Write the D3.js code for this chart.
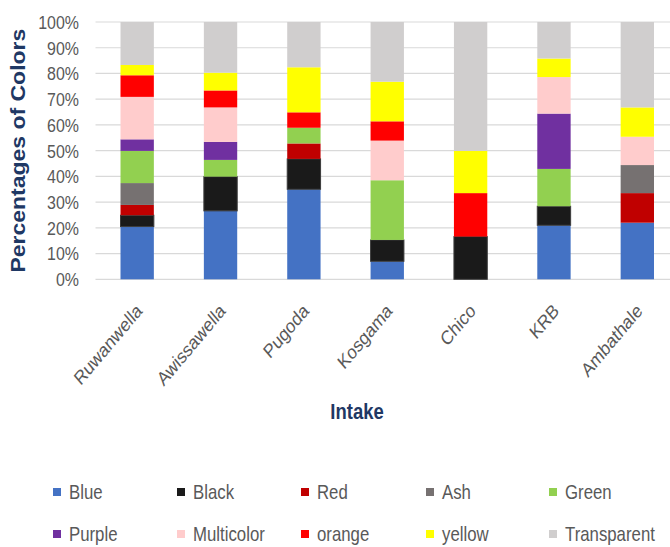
<!DOCTYPE html>
<html>
<head>
<meta charset="utf-8">
<script src="https://cdn.jsdelivr.net/npm/d3@7"></script>
<style>
  body { margin: 0; background: #fff; }
  svg { display: block; }
  text { font-family: "Liberation Sans", Arial, sans-serif; }
</style>
</head>
<body>
<svg width="670" height="547"></svg>
<script>
// sites along the x axis
const intakes = ['Ruwanwella', 'Awissawella', 'Pugoda', 'Kosgama', 'Chico', 'KRB', 'Ambathale'];

// percentage of each colour per intake
const blue        = [20.5, 26.6, 35.0,  7.0,  0.0, 21.0, 22.0];
const black       = [ 4.4, 13.3, 11.8,  8.3, 16.6,  7.4,  0.0];
const red         = [ 4.0,  0.0,  6.0,  0.0,  0.0,  0.0, 11.5];
const ash         = [ 8.5,  0.0,  0.0,  0.0,  0.0,  0.0, 10.9];
const green       = [12.5,  6.5,  6.1, 23.2,  0.0, 14.5,  0.0];
const purple      = [ 4.5,  7.0,  0.0,  0.0,  0.0, 21.5,  0.0];
const multicolor  = [16.5, 13.4,  0.0, 15.4,  0.0, 14.2, 11.0];
const orange      = [ 8.4,  6.6,  6.0,  7.5, 16.9,  0.0,  0.0];
const yellow      = [ 4.0,  6.9, 17.5, 15.4, 16.4,  7.2, 11.4];
const transparent = [16.7, 19.7, 17.6, 23.2, 50.1, 14.2, 33.2];

const seriesNames = ['Blue', 'Black', 'Red', 'Ash', 'Green', 'Purple', 'Multicolor', 'orange', 'yellow', 'Transparent'];
const seriesValues = [blue, black, red, ash, green, purple, multicolor, orange, yellow, transparent];
const seriesColors = ['#4472c4', '#1a1a1a', '#c00000', '#767171', '#92d050', '#7030a0', '#ffcccc', '#ff0000', '#ffff00', '#d0cece'];

const yTicks = [0, 0.1, 0.2, 0.3, 0.4, 0.5, 0.6, 0.7, 0.8, 0.9, 1];

const svg = d3.select('svg');
const plot = { left: 95.5, right: 679, top: 22, bottom: 279.3 };
const squeeze = 0.84; // the source picture is squashed sideways

const rows = intakes.map((name, i) => {
  const row = { intake: name };
  seriesNames.forEach((s, j) => { row[s] = seriesValues[j][i]; });
  return row;
});

const stack = d3.stack().keys(seriesNames).offset(d3.stackOffsetExpand);
const layers = stack(rows);

const x = d3.scaleBand().domain(intakes).range([plot.left, plot.right]).paddingInner(0.6).paddingOuter(0.3);
const y = d3.scaleLinear().domain([0, 1]).range([plot.bottom, plot.top]);
const color = d3.scaleOrdinal().domain(seriesNames).range(seriesColors);

// gridlines
svg.append('g')
  .selectAll('line')
  .data(yTicks)
  .join('line')
  .attr('x1', plot.left)
  .attr('x2', plot.right)
  .attr('y1', d => y(d))
  .attr('y2', d => y(d))
  .attr('stroke', '#d9d9d9')
  .attr('stroke-width', 1.2);

// y tick labels
svg.append('g')
  .selectAll('text')
  .data(yTicks)
  .join('text')
  .attr('transform', d => `translate(79,${y(d)}) scale(${squeeze},1)`)
  .attr('dy', '0.36em')
  .attr('text-anchor', 'end')
  .attr('fill', '#595959')
  .attr('font-size', 19)
  .text(d3.format('.0%'));

// bars
svg.append('g')
  .selectAll('g')
  .data(layers)
  .join('g')
  .attr('fill', d => color(d.key))
  .attr('stroke', d => d.key === 'Black' ? '#3c3c3c' : 'none')
  .selectAll('rect')
  .data(d => d.filter(p => p[1] - p[0] > 0))
  .join('rect')
  .attr('x', d => x(d.data.intake))
  .attr('width', x.bandwidth())
  .attr('y', d => y(d[1]))
  .attr('height', d => y(d[0]) - y(d[1]));

// x labels
svg.append('g')
  .selectAll('text')
  .data(intakes)
  .join('text')
  .attr('transform', d => `translate(${x(d) + x.bandwidth() / 2 + 6},312) scale(${squeeze},1) rotate(-45)`)
  .attr('text-anchor', 'end')
  .attr('fill', '#595959')
  .attr('font-size', 19.5)
  .text(d => d);

// axis titles
svg.append('text')
  .attr('transform', `translate(25,${(plot.top + plot.bottom) / 2}) scale(${squeeze},1) rotate(-90)`)
  .attr('text-anchor', 'middle')
  .attr('fill', '#1f3864')
  .attr('font-size', 23)
  .attr('font-weight', 'bold')
  .text('Percentages of Colors');

svg.append('text')
  .attr('transform', `translate(357,419) scale(${squeeze},1)`)
  .attr('text-anchor', 'middle')
  .attr('fill', '#1f3864')
  .attr('font-size', 22)
  .attr('font-weight', 'bold')
  .text('Intake');

// legend
const legendX = [53, 177, 301, 426, 549];
const legendY = [492, 534];
const legend = svg.append('g')
  .selectAll('g')
  .data(seriesNames)
  .join('g')
  .attr('transform', (d, i) => `translate(${legendX[i % 5]},${legendY[Math.floor(i / 5)]})`);

legend.append('rect')
  .attr('x', 0)
  .attr('y', -4)
  .attr('width', 8)
  .attr('height', 8)
  .attr('fill', d => color(d));

legend.append('text')
  .attr('transform', `translate(16,0) scale(${squeeze},1)`)
  .attr('dy', '0.36em')
  .attr('fill', '#595959')
  .attr('font-size', 20)
  .text(d => d);
</script>
</body>
</html>
